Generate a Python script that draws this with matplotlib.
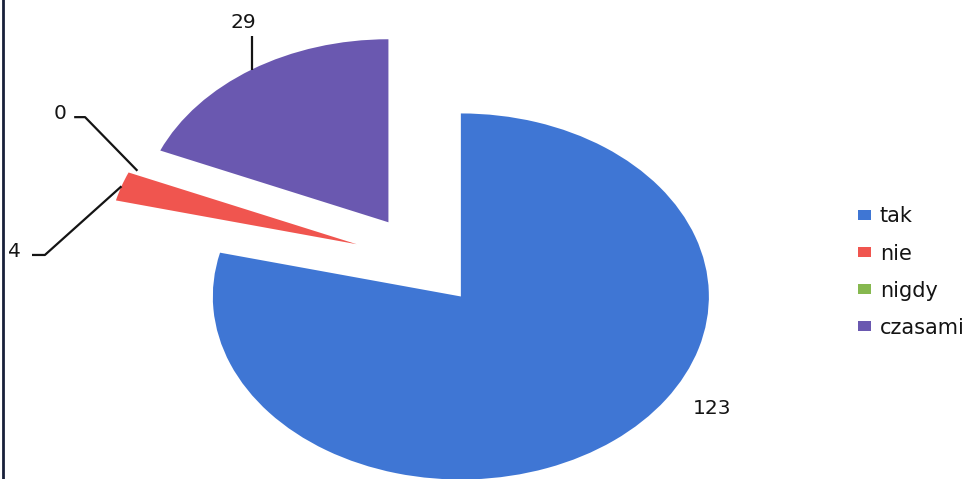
import numpy as np
import matplotlib.pyplot as plt

categories = ['tak', 'nie', 'nigdy', 'czasami']
values = [123, 4, 0, 29]
colors = ['#3f76d4', '#f0554f', '#86b84f', '#6a58b0']
explode = [0.25, 0.28, 0.25, 0.25]

# label text positions and leader elbows (data units, pie radius = 1)
label_pos = {'tak': (1.167, -0.807), 'nie': (-1.62, 0.05),
             'nigdy': (-1.435, 0.805), 'czasami': (-0.724, 1.298)}
leaders = {'nie': [(-1.575, 0.030), (-1.523, 0.030)],
           'nigdy': [(-1.405, 0.783), (-1.361, 0.783)],
           'czasami': [(-0.680, 1.227)]}

fig = plt.figure(figsize=(9.68, 4.79), dpi=100)
ax = fig.add_axes([0, 0, 1, 1])

wedges, _ = ax.pie(values, explode=explode, colors=colors, startangle=90,
                   counterclock=False, radius=1, wedgeprops=dict(linewidth=0))

ax.set_aspect('auto')
ax.set_xlim(-1.704, 2.199)
ax.set_ylim(-1.194, 1.423)
ax.axis('off')

fs = 14.5
for w, cat, v in zip(wedges, categories, values):
    mid = np.deg2rad((w.theta1 + w.theta2) / 2)
    cx, cy = w.center
    anchor = (cx + w.r * np.cos(mid), cy + w.r * np.sin(mid))
    tx, ty = label_pos[cat]
    if cat in leaders:
        pts = leaders[cat] + [anchor]
        if cat == 'czasami':
            pts = [(anchor[0], leaders[cat][0][1]), anchor]
        xs, ys = zip(*pts)
        ax.plot(xs, ys, color='#141414', lw=1.6, solid_capstyle='butt')
    ha = 'center' if cat in ('tak', 'czasami') else 'right'
    ax.text(tx, ty, str(v), ha=ha, va='center', fontsize=fs, color='#141414')

ax.legend(wedges, categories, loc='center left', bbox_to_anchor=(0.878, 0.432),
          frameon=False, fontsize=15, handlelength=0.62, handleheight=0.35,
          handletextpad=0.42, labelspacing=0.82, borderaxespad=0,
          labelcolor='#141414')

# scan border on the left
fig.add_artist(plt.Line2D([0.0035, 0.0035], [0, 1], color='#18203a', lw=2))

plt.savefig('out.png', dpi=100)
